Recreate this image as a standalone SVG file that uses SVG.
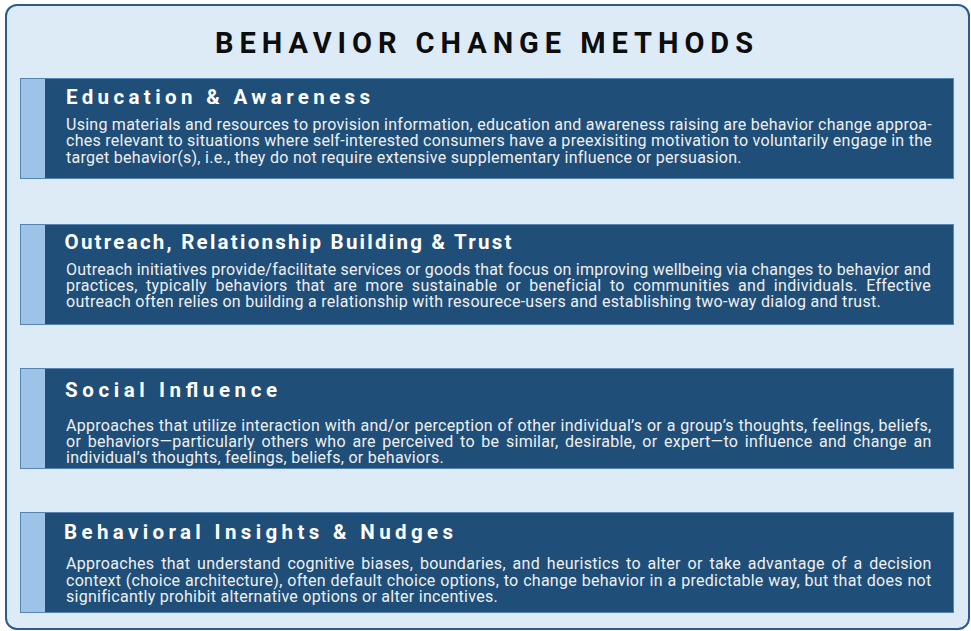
<svg xmlns="http://www.w3.org/2000/svg" width="971" height="631" viewBox="0 0 971 631">
<style>
.frame{fill:#ddebf7;stroke:#2b5c8c;stroke-width:2}
.box{fill:#1f4e79;stroke:#5585b5;stroke-width:1}
.bar{fill:#9dc3e6}
.title{font-family:Roboto,"Liberation Sans",sans-serif;font-weight:700;font-size:29px;fill:#0d0d0d}
.head{font-family:Roboto,"Liberation Sans",sans-serif;font-weight:700;font-size:20.5px;fill:#ffffff}
.body{font-family:Roboto,"Liberation Sans",sans-serif;font-size:16px;letter-spacing:0.28px;fill:#f0f0f0}
</style>
<rect class="frame" x="6" y="5" width="963" height="624" rx="11"/>
<text class="title" x="215" y="53" textLength="538" lengthAdjust="spacing">BEHAVIOR CHANGE METHODS</text>
<g id="education">
<rect class="box" x="20.5" y="78.5" width="933" height="100"/>
<rect class="bar" x="21" y="79" width="24" height="99"/>
<text class="head" x="66" y="104" textLength="304" lengthAdjust="spacing">Education &amp; Awareness</text>
<text class="body" x="66" y="129.5" textLength="866" lengthAdjust="spacing">Using materials and resources to provision information, education and awareness raising are behavior change approa-</text>
<text class="body" x="66" y="146" textLength="866" lengthAdjust="spacing">ches relevant to situations where self-interested consumers have a preexisiting motivation to voluntarily engage in the</text>
<text class="body" x="66" y="162.5">target behavior(s), i.e., they do not require extensive supplementary influence or persuasion.</text>
</g>
<g id="outreach">
<rect class="box" x="20.5" y="224.5" width="933" height="100"/>
<rect class="bar" x="21" y="225" width="24" height="99"/>
<text class="head" x="64.5" y="249" textLength="447" lengthAdjust="spacing">Outreach, Relationship Building &amp; Trust</text>
<text class="body" x="66" y="275.3" textLength="865" lengthAdjust="spacing">Outreach initiatives provide/facilitate services or goods that focus on improving wellbeing via changes to behavior and</text>
<text class="body" x="66" y="291.3" word-spacing="4.1" textLength="865" lengthAdjust="spacing">practices, typically behaviors that are more sustainable or beneficial to communities and individuals. Effective</text>
<text class="body" x="66" y="307.3">outreach often relies on building a relationship with resourece-users and establishing two-way dialog and trust.</text>
</g>
<g id="social">
<rect class="box" x="20.5" y="368.5" width="933" height="100"/>
<rect class="bar" x="21" y="369" width="24" height="99"/>
<text class="head" x="65" y="396.7" textLength="212" lengthAdjust="spacing">Social Influence</text>
<text class="body" x="66" y="431" word-spacing="0.4" textLength="865.5" lengthAdjust="spacing">Approaches that utilize interaction with and/or perception of other individual’s or a group’s thoughts, feelings, beliefs,</text>
<text class="body" x="66" y="447" word-spacing="2.3" textLength="865.5" lengthAdjust="spacing">or behaviors—particularly others who are perceived to be similar, desirable, or expert—to influence and change an</text>
<text class="body" x="66" y="463">individual’s thoughts, feelings, beliefs, or behaviors.</text>
</g>
<g id="insights">
<rect class="box" x="20.5" y="512.5" width="933" height="100"/>
<rect class="bar" x="21" y="513" width="24" height="99"/>
<text class="head" x="64" y="539" textLength="389" lengthAdjust="spacing">Behavioral Insights &amp; Nudges</text>
<text class="body" x="66" y="569.3" word-spacing="2.5" textLength="865.5" lengthAdjust="spacing">Approaches that understand cognitive biases, boundaries, and heuristics to alter or take advantage of a decision</text>
<text class="body" x="66" y="585.7" word-spacing="0.4" textLength="865.5" lengthAdjust="spacing">context (choice architecture), often default choice options, to change behavior in a predictable way, but that does not</text>
<text class="body" x="66" y="602.3">significantly prohibit alternative options or alter incentives.</text>
</g>
<g id="connectors"></g>
</svg>
